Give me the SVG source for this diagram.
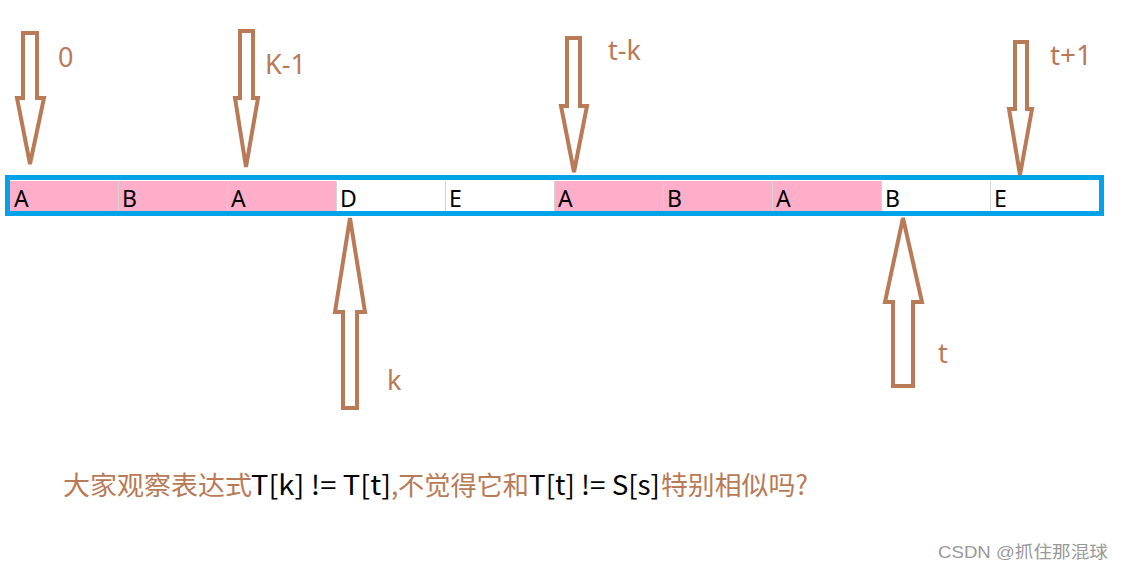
<svg xmlns="http://www.w3.org/2000/svg" width="1125" height="572" viewBox="0 0 1125 572">
<style>
.arrow{fill:#fff;stroke:#B97A57;stroke-width:4;stroke-linejoin:miter}
.lbl{font-family:"Noto Sans","Open Sans",sans-serif;font-size:27px;fill:#B97A57}
.cell{font-family:"Noto Sans","Open Sans",sans-serif;font-size:23px;fill:#000}
.pink{fill:#FFAECA}
.white{fill:#fff}
.grid{stroke:#D4D4D4;stroke-width:1}
.cn{font-family:"Noto Sans CJK SC","Noto Sans",sans-serif;font-size:26.5px}
</style>
<rect width="1125" height="572" fill="#fff"/>
<g id="strip">
<rect class="pink" x="10" y="181" width="326" height="30"/>
<rect class="white" x="336" y="181" width="218" height="30"/>
<rect class="pink" x="554" y="181" width="327" height="30"/>
<rect class="white" x="881" y="181" width="218" height="30"/>
<g class="grid">
<line x1="118.5" y1="181" x2="118.5" y2="211"/>
<line x1="227.5" y1="181" x2="227.5" y2="211"/>
<line x1="336.5" y1="181" x2="336.5" y2="211"/>
<line x1="445.5" y1="181" x2="445.5" y2="211"/>
<line x1="554.5" y1="181" x2="554.5" y2="211"/>
<line x1="663.5" y1="181" x2="663.5" y2="211"/>
<line x1="772.5" y1="181" x2="772.5" y2="211"/>
<line x1="881.5" y1="181" x2="881.5" y2="211"/>
<line x1="990.5" y1="181" x2="990.5" y2="211"/>
</g>
<rect x="7.5" y="177.5" width="1094" height="36" fill="none" stroke="#00A2E8" stroke-width="5"/>
<g class="cell">
<text x="14" y="207">A</text>
<text x="122" y="207">B</text>
<text x="231" y="207">A</text>
<text x="340" y="207">D</text>
<text x="449" y="207">E</text>
<text x="558" y="207">A</text>
<text x="667" y="207">B</text>
<text x="776" y="207">A</text>
<text x="885" y="207">B</text>
<text x="994" y="207">E</text>
</g>
</g>
<g id="connectors">
<path id="arrow-0" class="arrow" d="M23,33 H37 V98 H44 L30,164 L17,98 H23 Z"/>
<path id="arrow-k1" class="arrow" d="M240,31 H253 V98 H258 L246,167 L235,98 H240 Z"/>
<path id="arrow-tk" class="arrow" d="M567,38 H580 V106 H587 L574,172 L561,106 H567 Z"/>
<path id="arrow-t1" class="arrow" d="M1015,42 H1027 V109 H1032 L1020,175 L1009,109 H1015 Z"/>
<path id="arrow-k" class="arrow" d="M350,218 L365,312 H357 V408 H343 V312 H335 Z"/>
<path id="arrow-t" class="arrow" d="M903,218 L922,302 H913 V386 H893 V302 H885 Z"/>
</g>
<g id="labels">
<text class="lbl" x="58" y="67">0</text>
<text class="lbl" x="265" y="74">K-1</text>
<text class="lbl" x="608" y="60">t-k</text>
<text class="lbl" x="1050" y="65" textLength="42" lengthAdjust="spacingAndGlyphs">t+1</text>
<text class="lbl" x="387" y="390">k</text>
<text class="lbl" x="938" y="363">t</text>
</g>
<g id="caption" class="cn">
<text x="63" y="495" fill="#B97A57" textLength="189" lengthAdjust="spacingAndGlyphs">大家观察表达式</text>
<text x="251" y="495" fill="#000" textLength="140" lengthAdjust="spacingAndGlyphs">T[k] != T[t]</text>
<text x="391" y="495" fill="#B97A57">,</text>
<text x="398" y="495" fill="#B97A57" textLength="131" lengthAdjust="spacingAndGlyphs">不觉得它和</text>
<text x="529" y="495" fill="#000" textLength="131" lengthAdjust="spacingAndGlyphs">T[t] != S[s]</text>
<text x="661" y="495" fill="#B97A57" textLength="147" lengthAdjust="spacingAndGlyphs">特别相似吗?</text>
</g>
<text x="938" y="558" font-family="'Liberation Sans','Noto Sans CJK SC',sans-serif" font-size="17" fill="#999" textLength="170" lengthAdjust="spacingAndGlyphs">CSDN @抓住那混球</text>
</svg>
